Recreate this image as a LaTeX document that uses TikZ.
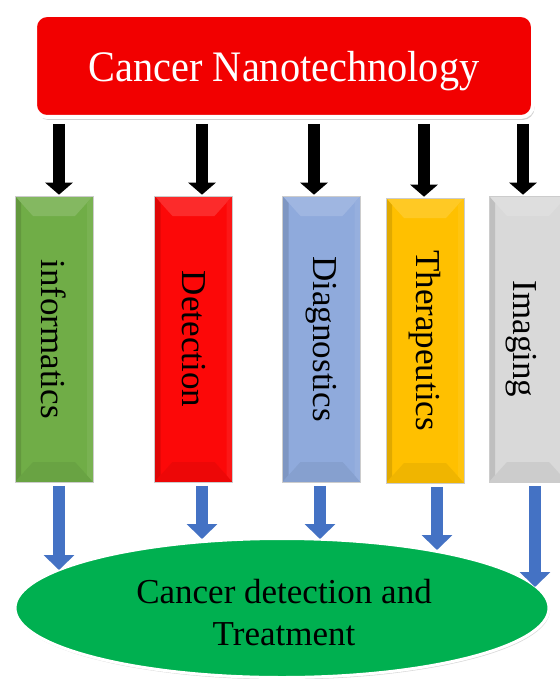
\documentclass[tikz,border=0pt]{standalone}
\usepackage{fontspec}
\setmainfont{Liberation Serif}
\usetikzlibrary{arrows.meta,shadows,shapes.geometric}
\definecolor{cgreen}{RGB}{112,173,71}
\definecolor{cred}{RGB}{252,8,8}
\definecolor{cblue}{RGB}{143,170,220}
\definecolor{cyellow}{RGB}{255,192,0}
\definecolor{cgray}{RGB}{217,217,217}
\definecolor{topred}{RGB}{242,0,0}
\definecolor{ellgreen}{RGB}{0,176,80}
\definecolor{arrblue}{RGB}{68,114,196}
\tikzset{
  catbox/.style={draw=gray!40, line width=0.6pt, minimum width=78pt, minimum height=286pt,
    inner sep=0pt, fill=#1, font=\fontsize{35}{40}\selectfont,
    drop shadow={shadow xshift=0.8pt, shadow yshift=-1.2pt, opacity=0.25, fill=gray},
    path picture={
      \fill[#1!86!white] (path picture bounding box.north west) -- (path picture bounding box.north east)
        -- ([xshift=-18pt,yshift=-20pt]path picture bounding box.north east)
        -- ([xshift=18pt,yshift=-20pt]path picture bounding box.north west) -- cycle;
      \fill[#1!94!black] (path picture bounding box.south west) -- (path picture bounding box.south east)
        -- ([xshift=-18pt,yshift=20pt]path picture bounding box.south east)
        -- ([xshift=18pt,yshift=20pt]path picture bounding box.south west) -- cycle;
      \fill[#1!88!black] (path picture bounding box.north west) -- ([xshift=6pt,yshift=-7pt]path picture bounding box.north west)
        -- ([xshift=6pt,yshift=7pt]path picture bounding box.south west) -- (path picture bounding box.south west) -- cycle;
      \fill[#1!94!white] (path picture bounding box.north east) -- ([xshift=-6pt,yshift=-7pt]path picture bounding box.north east)
        -- ([xshift=-6pt,yshift=7pt]path picture bounding box.south east) -- (path picture bounding box.south east) -- cycle;
    }},
  blk/.style={line width=12.5pt, black, -{Triangle[width=27pt,length=12pt]}, shorten <=5pt},
  blu/.style={line width=11.8pt, arrblue, -{Triangle[width=30pt,length=15pt]}, shorten <=3.5pt},
}
\begin{document}
\begin{tikzpicture}[x=1pt,y=-1pt]
\useasboundingbox (0,0) rectangle (559,679);
\fill[white] (0,0) rectangle (559,679);

% top box
\node[draw=white, line width=4pt, fill=topred, rounded corners=12pt,
      minimum width=498pt, minimum height=102pt, inner sep=0pt,
      drop shadow={shadow xshift=1.5pt, shadow yshift=-3pt, opacity=0.35, fill=gray},
      text=white, font=\fontsize{40.3}{46}\selectfont, text height=32pt, text depth=0pt] (top) at (284,66)
      {\scalebox{1}[1.08]{Cancer Nanotechnology}};

% category boxes
\node[catbox=cgreen]  (b1) at (54,339)    {\rotatebox{-90}{informatics}};
\node[catbox=cred]    (b2) at (193.5,339) {\rotatebox{-90}{Detection}};
\node[catbox=cblue]   (b3) at (321.5,339) {\rotatebox{-90}{Diagnostics}};
\node[catbox=cyellow, minimum height=285pt] (b4) at (425,340.5) {\rotatebox{-90}{Therapeutics}};
\node[catbox=cgray]   (b5) at (528,339)   {\rotatebox{-90}{Imaging}\hspace*{14pt}};

% black arrows
\draw[blk] ([xshift=5pt]b1.north |- top.south)   -- ([xshift=5pt,yshift=1pt]b1.north);
\draw[blk] ([xshift=8.5pt]b2.north |- top.south) -- ([xshift=8.5pt,yshift=1pt]b2.north);
\draw[blk] ([xshift=-7.5pt]b3.north |- top.south) -- ([xshift=-7.5pt,yshift=1pt]b3.north);
\draw[blk] ([xshift=-1pt]b4.north |- top.south)  -- ([xshift=-1pt,yshift=1pt]b4.north);
\draw[blk] ([xshift=-5pt]b5.north |- top.south)  -- ([xshift=-5pt,yshift=1pt]b5.north);

% ellipse
\node[ellipse, draw=white, line width=3pt, fill=ellgreen, minimum width=534pt, minimum height=139pt,
      drop shadow={shadow xshift=1pt, shadow yshift=-2pt, opacity=0.3, fill=gray}] (ell) at (282,608) {};
\node[align=center, font=\fontsize{35}{42}\selectfont, inner sep=0pt] (elltext) at (284,613)
      {Cancer detection and\\Treatment};

% blue arrows
\coordinate (t1) at (59,570);
\coordinate (t2) at (202,539);
\coordinate (t3) at (320,539);
\coordinate (t4) at (437,550);
\coordinate (t5) at (535,587);
\draw[blu] (t1 |- b1.south) -- (t1);
\draw[blu] (t2 |- b2.south) -- (t2);
\draw[blu] (t3 |- b3.south) -- (t3);
\draw[blu] (t4 |- b4.south) -- (t4);
\draw[blu] (t5 |- b5.south) -- (t5);
\end{tikzpicture}
\end{document}
